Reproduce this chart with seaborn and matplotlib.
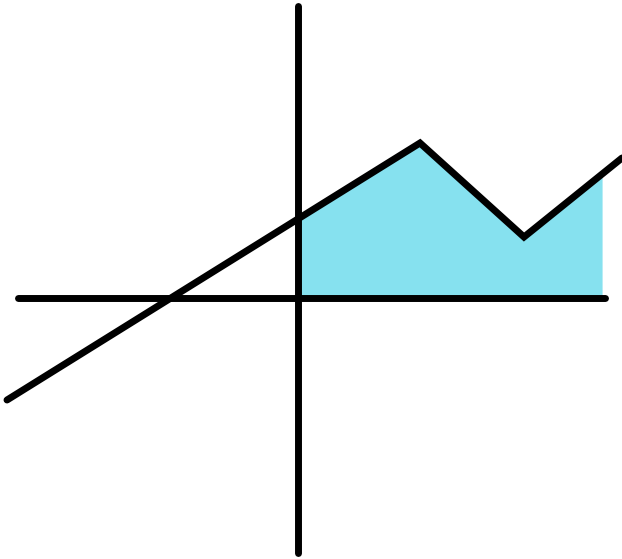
import numpy as np
import pandas as pd
import matplotlib
matplotlib.use('Agg')
import matplotlib.pyplot as plt
import seaborn as sns

# polyline vertices (sketch units, origin where the axes cross)
line_x = [-29.1, 12.2, 22.6, 32.4]
line_y = [-10.2, 15.5, 6.1, 14.0]

# shaded region spans from the y axis to here
fill_start = 0.0
fill_end = 30.2

# extent of the drawn axes
x_axis_range = [-28.0, 30.7]
y_axis_range = [-25.5, 29.2]

sns.set_style('white')
fig = plt.figure(figsize=(6.22, 5.59), dpi=100)
ax = fig.add_axes([0, 0, 1, 1])

# shaded area under the line, between the y axis and fill_end
fx = np.array([fill_start] + [x for x in line_x if fill_start < x < fill_end] + [fill_end])
fy = np.interp(fx, line_x, line_y)
ax.fill_between(fx, 0, fy, color='#86e1ef', linewidth=3, edgecolor='#86e1ef',
                joinstyle='round', zorder=1)

# axes drawn as thick strokes
ax.plot(x_axis_range, [0, 0], color='black', lw=5, solid_capstyle='round', zorder=2)
ax.plot([0, 0], y_axis_range, color='black', lw=5, solid_capstyle='round', zorder=2)

df = pd.DataFrame({'x': line_x, 'y': line_y})
sns.lineplot(data=df, x='x', y='y', sort=False, color='black', lw=5, ax=ax,
             solid_capstyle='round', solid_joinstyle='miter', zorder=3)

ax.set_xlim(-29.8, 32.4)
ax.set_ylim(-26.1, 29.8)
ax.axis('off')

fig.savefig('out.png', dpi=100)
